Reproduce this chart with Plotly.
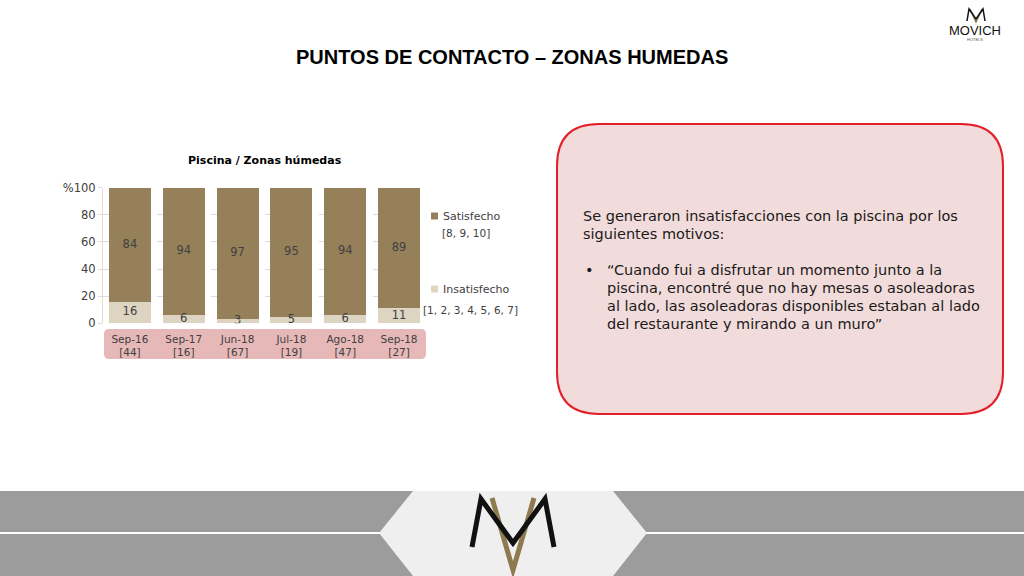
import plotly.graph_objects as go

# ---------------- data ----------------
categories = ["Sep-16", "Sep-17", "Jun-18", "Jul-18", "Ago-18", "Sep-18"]
sample_sizes = ["[44]", "[16]", "[67]", "[19]", "[47]", "[27]"]
insatisfecho = [16, 6, 3, 5, 6, 11]
satisfecho = [84, 94, 97, 95, 94, 89]
y_ticks = [0, 20, 40, 60, 80, 100]
y_tick_labels = ["0", "20", "40", "60", "80", "%100"]

W, H = 1024, 576
def px(x): return x / W
def py(y): return 1 - y / H

FONT = "DejaVu Sans"
C_SAT = "#96805A"
C_INS = "#DDD4C1"
TXT = "#404040"

tick_text = [f"{c}<br>{n}" for c, n in zip(categories, sample_sizes)]

fig = go.Figure()
fig.add_trace(go.Bar(x=categories, y=insatisfecho, name="Insatisfecho",
                     marker=dict(color=C_INS, line=dict(width=0)), showlegend=False))
fig.add_trace(go.Bar(x=categories, y=satisfecho, name="Satisfecho",
                     marker=dict(color=C_SAT, line=dict(width=0)), showlegend=False))
# data labels centred in each segment
fig.add_trace(go.Scatter(x=categories, y=[v / 2 for v in insatisfecho], mode="text",
                         text=[str(v) for v in insatisfecho], textposition="middle center",
                         textfont=dict(family=FONT, size=11.5, color=TXT), showlegend=False,
                         hoverinfo="skip"))
fig.add_trace(go.Scatter(x=categories, y=[i + s / 2 for i, s in zip(insatisfecho, satisfecho)],
                         mode="text", text=[str(v) for v in satisfecho],
                         textposition="middle center",
                         textfont=dict(family=FONT, size=11.5, color=TXT), showlegend=False,
                         hoverinfo="skip"))

shapes = []
annotations = []

def rrect(x0, y0, x1, y1, r, **kw):
    rx, ry = r / W, r / H
    X0, X1, Y0, Y1 = px(x0), px(x1), py(y0), py(y1)
    path = (f"M {X0+rx},{Y0} L {X1-rx},{Y0} Q {X1},{Y0} {X1},{Y0-ry} "
            f"L {X1},{Y1+ry} Q {X1},{Y1} {X1-rx},{Y1} L {X0+rx},{Y1} "
            f"Q {X0},{Y1} {X0},{Y1+ry} L {X0},{Y0-ry} Q {X0},{Y0} {X0+rx},{Y0} Z")
    d = dict(type="path", xref="paper", yref="paper", path=path)
    d.update(kw)
    return d

def ann(text, x, y, size, color, family=FONT, xanchor="center"):
    annotations.append(dict(text=text, x=px(x), y=py(y), xref="paper", yref="paper",
                            showarrow=False, xanchor=xanchor, yanchor="middle",
                            font=dict(family=family, size=size, color=color)))

# pink band behind category labels
shapes.append(rrect(104, 329, 426, 359, 5, fillcolor="#E6B9B8", line=dict(width=0), layer="below"))

# comment box
shapes.append(rrect(557, 124, 1003, 414, 42, fillcolor="#F2DCDB",
                    line=dict(color="#E3202A", width=2), layer="below"))

# bottom band
shapes.append(dict(type="rect", xref="paper", yref="paper", x0=0, x1=1, y0=py(576), y1=py(491),
                   fillcolor="#9C9C9C", line=dict(width=0), layer="below"))
shapes.append(dict(type="line", xref="paper", yref="paper", x0=0, x1=1, y0=py(533), y1=py(533),
                   line=dict(color="#FFFFFF", width=2)))
hexpath = (f"M {px(413)},{py(491)} L {px(613)},{py(491)} L {px(647)},{py(533)} "
           f"L {px(613)},{py(576)} L {px(413)},{py(576)} L {px(379)},{py(533)} Z")
shapes.append(dict(type="path", xref="paper", yref="paper", path=hexpath,
                   fillcolor="#EFEFEF", line=dict(width=0)))

def poly(pts, color, width):
    p = "M " + " L ".join(f"{px(x)},{py(y)}" for x, y in pts)
    return dict(type="path", xref="paper", yref="paper", path=p,
                line=dict(color=color, width=width))

# big logo: gold V behind black M
shapes.append(poly([(492, 498), (513, 570), (534, 498)], "#8E7A4F", 5))
shapes.append(poly([(472, 547), (481, 499), (513, 543), (545, 499), (554, 547)], "#111111", 5))
# small top-right logo
shapes.append(poly([(970, 9), (976, 22), (982, 9)], "#8E7A4F", 1.5))
shapes.append(poly([(967, 21), (969, 9), (976, 19), (983, 9), (985, 21)], "#111111", 1.5))

# titles
ann("<b>PUNTOS DE CONTACTO – ZONAS HUMEDAS</b>", 512, 57, 20, "#000000", family="Liberation Sans")
ann("<b>Piscina / Zonas húmedas</b>", 265, 160, 11, "#000000")
ann("MOVICH", 975, 31, 13, "#111111", family="Liberation Sans")
ann("HOTELS", 975, 40, 4, "#555555", family="Liberation Sans")

# legend (custom, right of plot)
shapes.append(dict(type="rect", xref="paper", yref="paper", x0=px(431), x1=px(438),
                   y0=py(219.5), y1=py(212.5), fillcolor=C_SAT, line=dict(width=0)))
shapes.append(dict(type="rect", xref="paper", yref="paper", x0=px(431), x1=px(438),
                   y0=py(292.5), y1=py(285.5), fillcolor=C_INS, line=dict(width=0)))
ann("Satisfecho", 441, 216, 11, TXT, xanchor="left")
ann("[8, 9, 10]", 466, 233, 10.5, TXT)
ann("Insatisfecho", 441, 289, 11, TXT, xanchor="left")
ann("[1, 2, 3, 4, 5, 6, 7]", 470, 310, 10.5, TXT)

# comment box text
box_lines = [("Se generaron insatisfacciones con la piscina por los", 581, 216),
             ("siguientes motivos:", 581, 234),
             ("•", 583, 270),
             ("“Cuando fui a disfrutar un momento junto a la", 605, 270),
             ("piscina, encontré que no hay mesas o asoleadoras", 605, 288),
             ("al lado, las asoleadoras disponibles estaban al lado", 605, 306),
             ("del restaurante y mirando a un muro”", 605, 324)]
for t, x, y in box_lines:
    ann(t, x, y, 14.5, "#1a1a1a", xanchor="left")

fig.update_layout(
    width=W, height=H, autosize=False, barmode="stack", bargap=0.22,
    margin=dict(l=0, r=0, t=0, b=0, pad=0, autoexpand=False),
    paper_bgcolor="white", plot_bgcolor="rgba(0,0,0,0)",
    font=dict(family=FONT, size=11, color=TXT),
    shapes=shapes, annotations=annotations, showlegend=False,
    xaxis=dict(domain=[px(103), px(426)], tickmode="array", tickvals=categories,
               ticktext=tick_text, showline=False, showgrid=False, ticks="",
               automargin=False, ticklabelstandoff=8,
               tickfont=dict(family=FONT, size=10.5, color=TXT), fixedrange=True),
    yaxis=dict(domain=[py(323.3), py(187.7)], range=[0, 100], tickvals=y_ticks,
               ticktext=y_tick_labels, showgrid=True, gridcolor="#D5DCE6", griddash="dash",
               gridwidth=1, showline=True, linecolor="#E8DCC8", zeroline=False,
               ticks="outside", ticklen=4, tickcolor="#D5DCE6", automargin=False,
               tickfont=dict(family=FONT, size=11.5, color=TXT), fixedrange=True),
)

fig.write_html("out.html", config={"displayModeBar": False},
               post_script="document.body.style.margin='0';document.body.style.overflow='hidden';")
